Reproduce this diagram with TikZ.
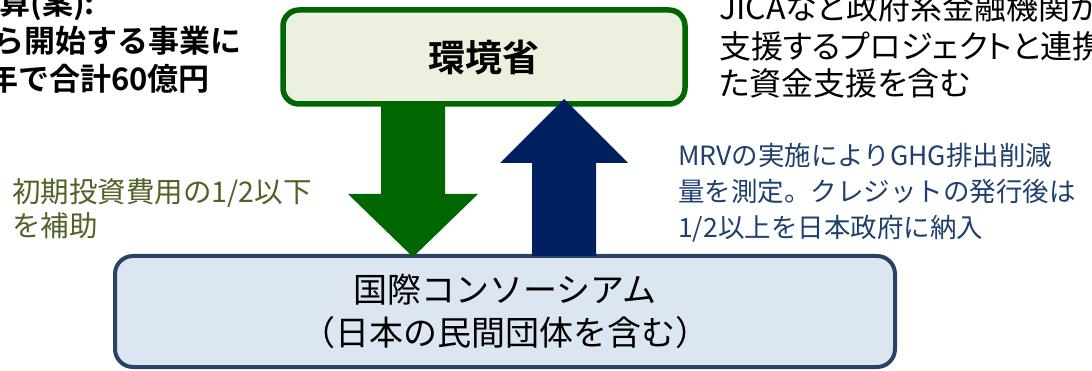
\documentclass[tikz,border=0pt]{standalone}
\usepackage{fontspec}
\setmainfont{Noto Sans CJK JP}[BoldFont={Noto Sans CJK JP Bold}]
\newfontfamily\jppalt{Noto Sans CJK JP}[RawFeature=+palt]

\definecolor{moegreen}{HTML}{006600}
\definecolor{moefill}{HTML}{EBF1DE}
\definecolor{upnavy}{HTML}{002060}
\definecolor{consfill}{HTML}{DCE6F2}
\definecolor{consline}{HTML}{2B4266}
\definecolor{olivetext}{HTML}{4F6228}
\definecolor{navytext}{HTML}{1F3F6E}

\begin{document}
\begin{tikzpicture}[x=1pt, y=-1pt,
    roundbox/.style={rectangle, inner sep=0pt, align=center},
    noteline/.style={inner sep=0pt},
    note/.style={inner sep=0pt, align=left}]
  \useasboundingbox (0,0) rectangle (1092,371);

  % boxes
  \node (moe) at (484,57) [roundbox, draw=moegreen, fill=moefill, line width=5.5pt,
    rounded corners=16pt, minimum width=402pt, minimum height=94pt,
    font=\fontsize{37}{44}\selectfont\bfseries] {環境省};
  \node (cons) at (505,311.5) [roundbox, draw=consline, fill=consfill, line width=4pt,
    rounded corners=18pt, minimum width=780pt, minimum height=111pt,
    font=\fontsize{34}{43}\selectfont] {国際コンソーシアム\\（日本の民間団体を含む）};

  % block arrows
  \coordinate (dn top) at (413,104);
  \coordinate (dn tip) at (413,257);
  \coordinate (up tip) at (564,99);
  \coordinate (up foot) at (564,256);
  \fill[moegreen] (dn top) ++(-32,0) -- ++(0,90) -- ++(-33,0) -- (dn tip)
    -- ++(65,-63) -- ++(-33,0) -- ++(0,-90) -- cycle;
  \fill[upnavy] (up foot) ++(-32,0) -- ++(0,-93) -- ++(-32,0) -- (up tip)
    -- ++(64,64) -- ++(-32,0) -- ++(0,93) -- cycle;

  % notes at the top, cut by the page edge
  \node (budget1) at (95,15) [noteline, anchor=base east, font=\fontsize{31}{37}\selectfont\bfseries] {算(案):};
  \node (budget2) at (242,53) [noteline, anchor=base east, font=\fontsize{31}{37}\selectfont\bfseries] {ら開始する事業に};
  \node (budget3) at (210,91) [noteline, anchor=base east, font=\fontsize{31}{37}\selectfont\bfseries] {年で合計60億円};
  \node (jica1) at (719,20) [noteline, anchor=base west, font=\fontsize{32}{37}\selectfont\jppalt] {JICAなど政府系金融機関が};
  \node (jica2) at (719,59) [noteline, anchor=base west, font=\fontsize{32}{37}\selectfont\jppalt] {支援するプロジェクトと連携};
  \node (jica3) at (719,96) [noteline, anchor=base west, font=\fontsize{32}{37}\selectfont\jppalt] {た資金支援を含む};

  % notes beside the arrows
  \node (subsidy) at (12,209) [note, anchor=west, text=olivetext,
    font=\fontsize{28.5}{34}\selectfont] {初期投資費用の1/2以下\\を補助};
  \node (mrv) at (678,193) [note, anchor=west, text=navytext,
    font=\fontsize{26.5}{36}\selectfont] {MRVの実施によりGHG排出削減\\量を測定。クレジットの発行後は\\1/2以上を日本政府に納入};
\end{tikzpicture}
\end{document}
